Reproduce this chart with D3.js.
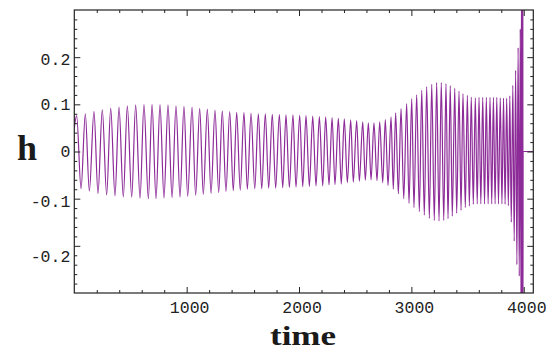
<!DOCTYPE html>
<html>
<head>
<meta charset="utf-8">
<script src="https://cdn.jsdelivr.net/npm/d3@7"></script>
<style>
  html, body { margin: 0; padding: 0; background: #fff; }
  svg { display: block; }
</style>
</head>
<body>
<svg id="chart" width="546" height="351"></svg>
<script>
// Extrema of the waveform h(time)
const times = [0,
  21,60,98,134,175,211,249,288,324,362,398,436,472,511,546,585,620,659,692,
  727,763,798,834,870,905,941,976,1009,1048,1080,1116,1148,1184,1217,1252,1285,1317,1350,1383,
  1415,1445,1477,1510,1540,1573,1606,1638,1668,1700,1730,1762,1792,1825,1855,1884,1914,1946,1973,2006,2033,2062,2092,2122,
  2151,2181,2211,2237,2267,2294,2320,2350,2376,2403,2430,2460,2483,2513,2537,2567,2590,2617,2641,2667,2694,2718,2745,2768,2792,2819,
  2839,2860,2884,2908,2932,2958,2979,3003,3023,3047,3071,3092,3115,3136,3160,3181,3204,3225,3246,3266,3288,3308,3326,3346,3364,3386,3403,3424,3442,3459,3480,3498,3516,3533,3551,
  3569,3586,3602,3618,3635,3651,3667,3683,3700,3715,3730,3745,3760,3775,3791,3806,3820,3834,3848,3863,3876,3889,3903,3915,3928,3939,3950,3960,3969,3975,3980,3984,3987,3989.5,3991.5,3993,3994.5,
  4085];
const hValues = [0.05,
  0.076,-0.079,0.080,-0.084,0.085,-0.089,0.089,-0.092,0.092,-0.094,0.094,-0.096,0.0966,-0.097,0.099,-0.099,0.0994,-0.100,0.100,
  -0.100,0.0994,-0.0987,0.0987,-0.098,0.097,-0.0966,0.0958,-0.095,0.094,-0.093,0.0915,-0.091,0.090,-0.089,0.088,-0.0867,0.086,-0.0846,0.0846,
  -0.083,0.083,-0.082,0.0824,-0.080,0.081,-0.079,0.080,-0.079,0.0796,-0.0775,0.079,-0.0775,0.078,-0.077,0.0775,-0.076,0.0775,-0.0755,0.0768,-0.0747,0.076,-0.074,0.075,
  -0.073,0.074,-0.073,0.0733,-0.071,0.072,-0.070,0.0704,-0.069,0.069,-0.066,0.067,-0.065,0.0655,-0.063,0.063,-0.061,0.061,-0.060,0.0606,-0.062,0.063,-0.066,0.0677,-0.072,0.0733,
  -0.080,0.082,-0.0895,0.091,-0.100,0.1015,-0.110,0.112,-0.119,0.1205,-0.1275,0.1296,-0.135,0.1374,-0.1417,0.1423,-0.146,0.146,-0.1473,0.146,-0.146,0.1438,-0.1423,0.1395,-0.137,0.134,-0.131,0.128,-0.1247,0.123,-0.119,0.119,-0.1156,0.1156,-0.112,
  0.114,-0.111,0.115,-0.111,0.115,-0.111,0.115,-0.111,0.115,-0.111,0.115,-0.111,0.115,-0.111,0.114,-0.111,0.113,-0.112,0.113,-0.115,0.118,-0.150,0.14,-0.19,0.172,-0.24,0.22,-0.264,0.26,-0.33,0.38,-0.42,0.45,-0.45,0.42,-0.35,0,
  0];

const xDomain = [0, 4085];
const yDomain = [-0.3, 0.3];
const xMajor = [1000, 2000, 3000, 4000];
const xMajorLabels = ["1000", "2000", "3000", "4000"];
const yMajor = [-0.2, -0.1, 0, 0.1, 0.2];
const yMajorLabels = ["-0.2", "-0.1", "0", "0.1", "0.2"];
const xMinor = d3.range(200, 4085, 200).filter(v => v % 1000 !== 0);
const yMinor = d3.range(-28, 29, 2).map(v => v / 100).filter(v => Math.abs(Math.round(v * 100)) % 10 !== 0);

const L = 74.3, R = 533.3, T = 10, B = 293;
const svg = d3.select("#chart");
const x = d3.scaleLinear().domain(xDomain).range([L, R]);
const y = d3.scaleLinear().domain(yDomain).range([B, T]);

svg.append("defs").append("clipPath").attr("id", "clip")
  .append("rect").attr("x", L).attr("y", T).attr("width", R - L).attr("height", B - T);

const data = d3.zip(times, hValues);
const line = d3.line().x(d => x(d[0])).y(d => y(d[1])).curve(d3.curveMonotoneX);

svg.append("path")
  .attr("clip-path", "url(#clip)")
  .attr("d", line(data))
  .attr("fill", "none")
  .attr("stroke", "#8d2b98")
  .attr("stroke-width", 1.2)
  .attr("stroke-linejoin", "round");

const frameColor = "#222";
function styleAxis(g) {
  g.select(".domain").remove();
  g.selectAll("line").attr("stroke", frameColor).attr("stroke-width", 1);
}
// bottom
svg.append("g").attr("transform", `translate(0,${B})`)
  .call(d3.axisBottom(x).tickValues(xMinor).tickSize(-3).tickFormat("")).call(styleAxis);
svg.append("g").attr("transform", `translate(0,${B})`)
  .call(d3.axisBottom(x).tickValues(xMajor).tickSize(-6).tickPadding(8)
    .tickFormat((d, i) => xMajorLabels[i])).call(styleAxis)
  .selectAll("text").attr("font-family", "'Liberation Mono', monospace").attr("font-size", 16.5)
  .attr("fill", "#222").attr("dx", 2.5);
// top
svg.append("g").attr("transform", `translate(0,${T})`)
  .call(d3.axisTop(x).tickValues(xMinor).tickSize(-3).tickFormat("")).call(styleAxis);
svg.append("g").attr("transform", `translate(0,${T})`)
  .call(d3.axisTop(x).tickValues(xMajor).tickSize(-6).tickFormat("")).call(styleAxis);
// left
svg.append("g").attr("transform", `translate(${L},0)`)
  .call(d3.axisLeft(y).tickValues(yMinor).tickSize(-3).tickFormat("")).call(styleAxis);
const yAx = svg.append("g").attr("transform", `translate(${L},0)`)
  .call(d3.axisLeft(y).tickValues(yMajor).tickSize(-6).tickPadding(4)
    .tickFormat((d, i) => yMajorLabels[i])).call(styleAxis);
yAx.selectAll("text").attr("font-family", "'Liberation Mono', monospace").attr("font-size", 16.5)
  .attr("fill", "#222")
  .attr("dy", d => d < -0.15 ? "0.95em" : d < -0.05 ? "0.5em" : d > 0.15 ? "0.45em" : "0.32em");
// right
svg.append("g").attr("transform", `translate(${R},0)`)
  .call(d3.axisRight(y).tickValues(yMinor).tickSize(-3).tickFormat("")).call(styleAxis);
svg.append("g").attr("transform", `translate(${R},0)`)
  .call(d3.axisRight(y).tickValues(yMajor).tickSize(-6).tickFormat("")).call(styleAxis);

// frame
svg.append("rect").attr("x", L).attr("y", T).attr("width", R - L).attr("height", B - T)
  .attr("fill", "none").attr("stroke", frameColor).attr("stroke-width", 1.2);

// axis titles
svg.append("text").attr("x", 27).attr("y", 160).attr("text-anchor", "middle")
  .attr("font-family", "'Liberation Serif', serif").attr("font-weight", "bold")
  .attr("font-size", 36).attr("fill", "#1a1a1a").text("h");
svg.append("text").attr("x", 303).attr("y", 344.5).attr("text-anchor", "middle")
  .attr("font-family", "'Liberation Serif', serif").attr("font-weight", "bold")
  .attr("font-size", 28).attr("textLength", 66).attr("lengthAdjust", "spacingAndGlyphs")
  .attr("fill", "#1a1a1a").text("time");
</script>
</body>
</html>
